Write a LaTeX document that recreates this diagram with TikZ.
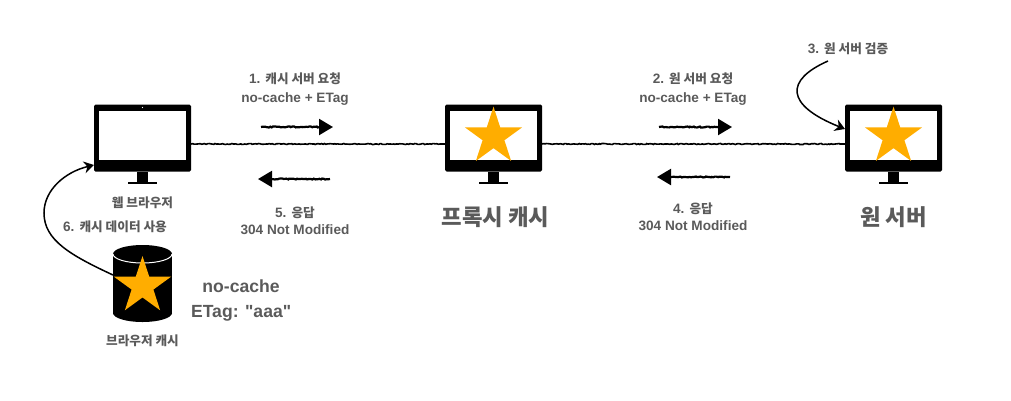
\documentclass[tikz,border=0pt]{standalone}
\usepackage{fontspec}
\setmainfont{Liberation Sans}
\newfontfamily\plainfont{Liberation Sans}
\newfontfamily\krfont[Scale=0.93]{Noto Sans CJK KR}
\usetikzlibrary{shapes.geometric, arrows.meta, positioning, decorations.pathmorphing}

\definecolor{labelgray}{HTML}{5A5A5A}
\definecolor{staryellow}{HTML}{FFAD00}

\begin{document}
\begin{tikzpicture}[
    x=1pt,
    y=-1pt,
    node distance=10pt,
    monitor/.style={rectangle, rounded corners=1.5pt, fill=black, minimum width=97pt, minimum height=67pt, inner sep=0pt, outer sep=0pt},
    screen/.style={rectangle, fill=white, minimum width=87pt, minimum height=49pt, inner sep=0pt, outer sep=0pt},
    neck/.style={rectangle, fill=black, minimum width=11pt, minimum height=10pt, inner sep=0pt, outer sep=0pt},
    foot/.style={rectangle, fill=black, minimum width=29pt, minimum height=2.5pt, inner sep=0pt, outer sep=0pt},
    bigstar/.style={star, star points=5, star point ratio=2.618, fill=staryellow, minimum size=60pt, inner sep=0pt, outer sep=0pt},
    drum/.style={rectangle, fill=black, minimum width=59pt, minimum height=59pt, inner sep=0pt, outer sep=0pt},
    msg/.style={align=center, text=labelgray, font=\bfseries\fontsize{13.6}{19}\selectfont},
    small/.style={text=labelgray, font=\bfseries\fontsize{13.6}{16}\selectfont},
    big/.style={text=labelgray, font=\bfseries\fontsize{24}{28}\selectfont},
    meta/.style={align=center, text=labelgray, font=\plainfont\bfseries\fontsize{17.6}{25}\selectfont},
    rough/.style={decorate, decoration={random steps, segment length=1.5pt, amplitude=0.5pt, post length=5pt}},
    line/.style={rough, line width=1.6pt},
    arrow/.style={rough, line width=2.2pt, -{Triangle[length=14pt, width=16pt]}},
    curved/.style={line width=1.5pt, -{Stealth[length=10pt, width=12pt]}}
]

    \useasboundingbox (0,0) rectangle (1011,400);

    % Monitors
    \node[monitor] (browser) at (142.5,138) {};
    \node[monitor, right=254pt of browser] (proxy) {};
    \node[monitor, right=303pt of proxy] (origin) {};

    \foreach \name in {browser, proxy, origin} {
        \node[screen] (\name-screen) at ([yshift=2.5pt]\name.center) {};
        \node[neck, below=0pt of \name] (\name-neck) {};
        \node[foot, below=0pt of \name-neck] (\name-foot) {};
    }
    \fill[white] ([yshift=-3pt]browser.north) circle (0.7pt);

    % Stars on the monitors
    \node[bigstar] (proxy-star) at ([yshift=1.3pt]proxy.center) {};
    \node[bigstar] (origin-star) at ([yshift=1.3pt]origin.center) {};

    % Browser cache
    \node[drum] (cache) at (142.5,283.5) {};
    \fill (cache.north) ellipse [x radius=29.5, y radius=9];
    \fill (cache.south) ellipse [x radius=29.5, y radius=9];
    \draw[white, line width=1pt] (cache.north west) arc [start angle=180, end angle=0, x radius=29.5, y radius=9];
    \node[bigstar] (cache-star) at (142.5,286) {};

    % Node names
    \node[small, below=9pt of browser-foot] (browser-name) {\krfont 웹 브라우저};
    \node[big, below=19pt of proxy-foot, xshift=2pt] (proxy-name) {\krfont 프록시 캐시};
    \node[big, below=19pt of origin-foot] (origin-name) {\krfont 원 서버};
    \node[small, below=18pt of cache] (cache-name) {\krfont 브라우저 캐시};
    \node[meta, right=15.5pt of cache, yshift=-17pt] (cache-meta) {no-cache\\ETag: "aaa"};

    % Connections
    \draw[line] ([yshift=-6pt]browser.east) -- ([yshift=-6pt]proxy.west);
    \draw[line] ([yshift=-6pt]proxy.east) -- ([yshift=-6pt]origin.west);

    % Message arrows
    \coordinate (req1-from) at (261,127);
    \coordinate (req1-to) at (333,127);
    \coordinate (res5-from) at (330,179);
    \coordinate (res5-to) at (258,179);
    \coordinate (req2-from) at (659,127);
    \coordinate (req2-to) at (732,127);
    \coordinate (res4-from) at (730,177);
    \coordinate (res4-to) at (657,177);
    \draw[arrow] (req1-from) -- (req1-to);
    \draw[arrow] (res5-from) -- (res5-to);
    \draw[arrow] (req2-from) -- (req2-to);
    \draw[arrow] (res4-from) -- (res4-to);

    % Message labels
    \node[msg] (req1) at (295,89.5) {1. {\krfont 캐시 서버 요청}\\no-cache + ETag};
    \node[msg] (res5) at (295,221) {5. {\krfont 응답}\\[-2pt]304 Not Modified};
    \node[msg] (req2) at (693,89.5) {2. {\krfont 원 서버 요청}\\no-cache + ETag};
    \node[msg] (res4) at (693,217) {4. {\krfont 응답}\\[-2pt]304 Not Modified};

    % Side notes
    \node[small] (check) at (848,49) {3. {\krfont 원 서버 검증}};
    \node[small] (reuse) at (115,227) {6. {\krfont 캐시 데이터 사용}};
    \coordinate (check-start) at (828,61);
    \coordinate (reuse-start) at (113,275);
    \draw[curved] (check-start) .. controls (785,80) and (785,105) .. (origin.west |- 0,129);
    \draw[curved] (reuse-start) .. controls (70,255) and (44,240) .. (44,213) .. controls (44,190) and (65,172) .. (browser.west |- 0,165);

\end{tikzpicture}
\end{document}
